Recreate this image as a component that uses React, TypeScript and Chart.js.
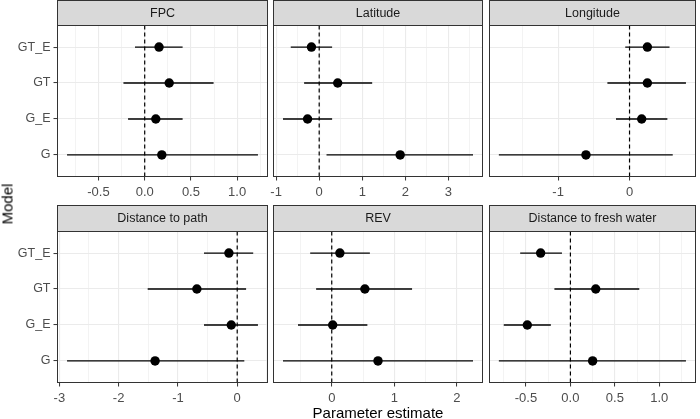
import React, { useEffect, useRef } from 'react';
import { Chart, registerables } from 'chart.js';

Chart.register(...registerables);

// ---- Data ----
const models = ['G', 'G_E', 'GT', 'GT_E'];

const panelTitles = ['FPC', 'Latitude', 'Longitude', 'Distance to path', 'REV', 'Distance to fresh water'];

const fpcEst = [0.185, 0.12, 0.265, 0.155];
const fpcLo = [-0.84, -0.18, -0.23, -0.105];
const fpcHi = [1.225, 0.41, 0.745, 0.41];

const latEst = [1.88, -0.27, 0.43, -0.18];
const latLo = [0.17, -0.84, -0.35, -0.66];
const latHi = [3.57, 0.3, 1.23, 0.3];

const lonEst = [-0.61, 0.17, 0.25, 0.25];
const lonLo = [-1.83, -0.19, -0.31, -0.06];
const lonHi = [0.605, 0.53, 0.79, 0.56];

const pathEst = [-1.385, -0.1, -0.68, -0.14];
const pathLo = [-2.87, -0.56, -1.51, -0.56];
const pathHi = [0.12, 0.35, 0.15, 0.27];

const revEst = [0.74, 0.015, 0.53, 0.13];
const revLo = [-0.78, -0.54, -0.25, -0.345];
const revHi = [2.26, 0.57, 1.285, 0.61];

const waterEst = [0.25, -0.485, 0.285, -0.335];
const waterLo = [-0.805, -0.75, -0.18, -0.565];
const waterHi = [1.3, -0.22, 0.775, -0.095];

// tick labels (major) and minor grid positions
const fpcMajor = [-0.5, 0, 0.5, 1.0];
const fpcMinor = [-0.75, -0.25, 0.25, 0.75, 1.25];
const latMajor = [-1, 0, 1, 2, 3];
const latMinor = [-0.5, 0.5, 1.5, 2.5, 3.5];
const lonMajor = [-1, 0];
const lonMinor = [-1.5, -0.5, 0.5];
const pathMajor = [-3, -2, -1, 0];
const pathMinor = [-2.5, -1.5, -0.5, 0.5];
const revMajor = [0, 1, 2];
const revMinor = [-0.5, 0.5, 1.5];
const waterMajor = [-0.5, 0, 0.5, 1.0];
const waterMinor = [-0.75, -0.25, 0.25, 0.75, 1.25];

const decimals = [1, 0, 0, 0, 0, 1];

const panels = [
  { est: fpcEst, lo: fpcLo, hi: fpcHi, major: fpcMajor, minor: fpcMinor },
  { est: latEst, lo: latLo, hi: latHi, major: latMajor, minor: latMinor },
  { est: lonEst, lo: lonLo, hi: lonHi, major: lonMajor, minor: lonMinor },
  { est: pathEst, lo: pathLo, hi: pathHi, major: pathMajor, minor: pathMinor },
  { est: revEst, lo: revLo, hi: revHi, major: revMajor, minor: revMinor },
  { est: waterEst, lo: waterLo, hi: waterHi, major: waterMajor, minor: waterMinor },
];

// ---- Layout ----
const W = 700;
const H = 419;
const colEdges = [
  [57.5, 267.5],
  [273.5, 482.5],
  [489.5, 698.5],
];
const rowEdges = [
  { stripTop: 0.5, top: 25.5, bottom: 176.5 },
  { stripTop: 205.5, top: 231.5, bottom: 382.5 },
];
const FONT = "'Liberation Sans', Arial, Helvetica, sans-serif";
const X_AXIS_H = 30;

const crisp = (v: number) => Math.floor(v) + 0.5;

export default function App() {
  const refs = useRef<(HTMLCanvasElement | null)[]>([]);

  useEffect(() => {
    document.body.style.margin = '0';
    const charts = panels.map((p, i) => {
      const col = i % 3;
      const row = Math.floor(i / 3);
      const [cl, cr] = colEdges[col];
      const re = rowEdges[row];
      const lo = Math.min(...p.lo);
      const hi = Math.max(...p.hi);
      const span = hi - lo;
      const xmin = lo - 0.05 * span;
      const xmax = hi + 0.05 * span;
      const title = panelTitles[i];
      const dec = decimals[i];

      const whiskers = models.map((_, k) => ({
        type: 'scatter' as const,
        data: [
          { x: p.lo[k], y: k + 1 },
          { x: p.hi[k], y: k + 1 },
        ],
        showLine: true,
        borderColor: '#000',
        borderWidth: 1.3,
        pointRadius: 0,
        order: 1,
      }));

      const stripPlugin = {
        id: 'strip' + i,
        afterDraw(chart: any) {
          const ctx = chart.ctx as CanvasRenderingContext2D;
          const a = chart.chartArea;
          const L = crisp(a.left);
          const R = crisp(a.right);
          const T = crisp(a.top);
          const B = crisp(a.bottom);
          const ST = crisp(re.stripTop);
          ctx.save();
          ctx.fillStyle = '#d9d9d9';
          ctx.fillRect(L, ST, R - L, T - ST);
          ctx.strokeStyle = '#333333';
          ctx.lineWidth = 1;
          ctx.strokeRect(L, ST, R - L, T - ST);
          ctx.strokeRect(L, T, R - L, B - T);
          ctx.fillStyle = '#1a1a1a';
          ctx.font = `12.5px ${FONT}`;
          ctx.textAlign = 'center';
          ctx.textBaseline = 'middle';
          ctx.fillText(title, (L + R) / 2, (ST + T) / 2 + 0.5);
          ctx.restore();
        },
      };

      const config: any = {
        type: 'scatter',
        data: {
          datasets: [
            {
              type: 'scatter',
              data: models.map((_, k) => ({ x: p.est[k], y: k + 1 })),
              pointRadius: 4.7,
              pointBackgroundColor: '#000',
              pointBorderWidth: 0,
              order: 0,
            },
            ...whiskers,
            {
              type: 'scatter',
              data: [
                { x: 0, y: 0.4 },
                { x: 0, y: 4.6 },
              ],
              showLine: true,
              borderColor: '#000',
              borderWidth: 1.2,
              borderDash: [4, 3],
              pointRadius: 0,
              order: 2,
            },
          ],
        },
        options: {
          responsive: false,
          animation: false,
          events: [],
          layout: {
            padding: {
              left: col === 0 ? 0 : cl,
              right: W - cr,
              top: re.top,
              bottom: H - re.bottom - X_AXIS_H,
            },
          },
          plugins: {
            legend: { display: false },
            tooltip: { enabled: false },
            title: { display: false },
          },
          scales: {
            x: {
              type: 'linear',
              min: xmin,
              max: xmax,
              bounds: 'data',
              afterBuildTicks: (s: any) => {
                const t = [
                  ...p.major.map((v) => ({ value: v, minor: false })),
                  ...p.minor.map((v) => ({ value: v, minor: true })),
                ];
                t.sort((a, b) => a.value - b.value);
                s.ticks = t;
              },
              afterFit: (s: any) => {
                s.height = X_AXIS_H;
              },
              border: { display: false },
              grid: {
                color: '#ebebeb',
                lineWidth: (c: any) => (c.tick && c.tick.minor ? 0.6 : 1.1),
                tickColor: (c: any) => (c.tick && c.tick.minor ? 'rgba(0,0,0,0)' : '#333333'),
                tickWidth: 1,
                tickLength: 4,
                drawTicks: true,
              },
              ticks: {
                autoSkip: false,
                maxRotation: 0,
                minRotation: 0,
                padding: 4,
                color: '#4d4d4d',
                font: { family: FONT, size: 13 },
                callback: (v: number, idx: number, ticks: any[]) =>
                  ticks[idx] && ticks[idx].minor ? '' : v.toFixed(dec),
              },
            },
            y: {
              type: 'linear',
              min: 0.4,
              max: 4.6,
              afterBuildTicks: (s: any) => {
                s.ticks = models.map((_, k) => ({ value: k + 1 }));
              },
              afterFit: (s: any) => {
                s.width = col === 0 ? cl : 0;
              },
              border: { display: false },
              grid: {
                color: '#ebebeb',
                lineWidth: 1.1,
                tickColor: '#333333',
                tickWidth: 1,
                tickLength: 4,
                drawTicks: col === 0,
              },
              ticks: {
                display: col === 0,
                autoSkip: false,
                padding: 3,
                color: '#4d4d4d',
                font: { family: FONT, size: 12.5 },
                callback: (v: number) => models[Math.round(v) - 1],
              },
            },
          },
        },
        plugins: [stripPlugin],
      };
      return new Chart(refs.current[i] as HTMLCanvasElement, config);
    });
    return () => charts.forEach((c) => c.destroy());
  }, []);

  return (
    <div
      style={{
        position: 'absolute',
        left: 0,
        top: 0,
        width: W,
        height: H,
        background: '#ffffff',
        overflow: 'hidden',
        fontFamily: FONT,
      }}
    >
      {panels.map((_, i) => (
        <canvas
          key={i}
          ref={(el) => {
            refs.current[i] = el;
          }}
          width={W}
          height={H}
          style={{ position: 'absolute', left: 0, top: 0, width: W, height: H }}
        />
      ))}
      <div
        style={{
          position: 'absolute',
          left: 7,
          top: 204,
          transform: 'translate(-50%, -50%) rotate(-90deg)',
          fontSize: 15,
          fontWeight: 'normal',
          color: '#000',
          whiteSpace: 'nowrap',
          lineHeight: 1,
        }}
      >
        Model
      </div>
      <div
        style={{
          position: 'absolute',
          left: 378,
          top: 412,
          transform: 'translate(-50%, -50%)',
          fontSize: 15,
          color: '#000',
          whiteSpace: 'nowrap',
          lineHeight: 1,
        }}
      >
        Parameter estimate
      </div>
    </div>
  );
}
